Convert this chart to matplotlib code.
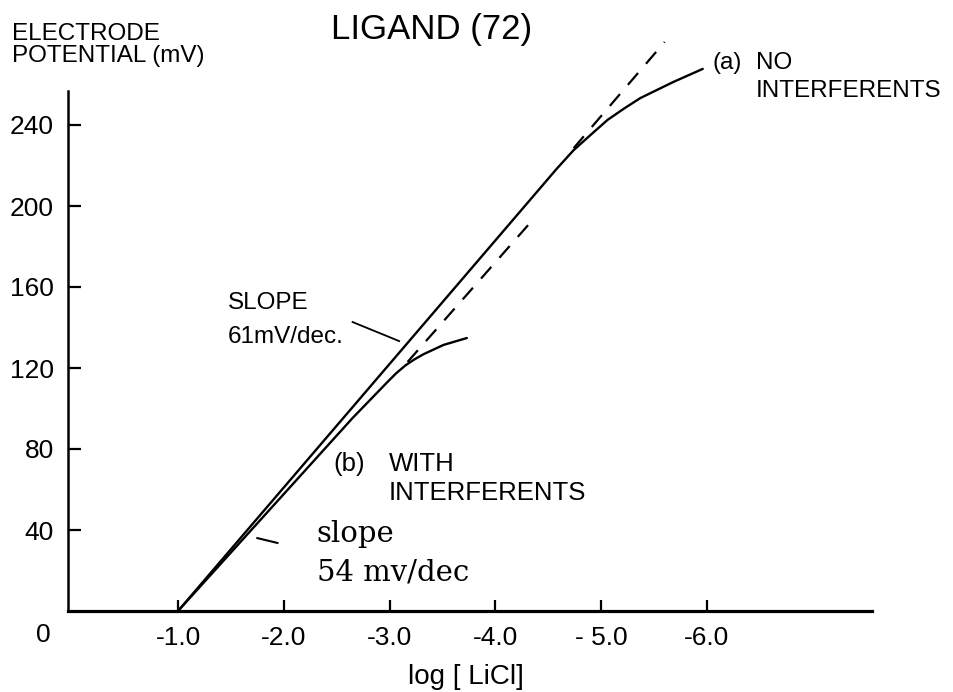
import matplotlib
matplotlib.use('Agg')
import matplotlib.pyplot as plt

plt.rcParams['font.family'] = ['Liberation Sans', 'DejaVu Sans']

# values (x = log[LiCl], y = potential in mV)
curve_a_x = [-1.0, -4.58, -4.66, -4.74, -4.90, -5.06, -5.21, -5.37, -5.68, -5.96]
curve_a_y = [0.0, 218.4, 223.0, 227.6, 235.1, 242.5, 247.9, 253.3, 261.2, 267.7]

curve_b_x = [-1.0, -2.65, -2.98, -3.06, -3.15, -3.23, -3.32, -3.51, -3.73]
curve_b_y = [0.0, 95.3, 113.1, 117.3, 121.3, 124.1, 126.8, 131.4, 134.8]

# dashed 61 mV/dec extrapolations
dash_a_x = [-4.74, -5.60]
dash_a_y = [228.6, 281.0]
dash_b_x = [-3.17, -4.31]
dash_b_y = [123.0, 190.6]

# leader lines of the slope notes
lead_61_x = [-2.65, -3.09]
lead_61_y = [142.7, 133.3]
lead_54_x = [-1.75, -1.94]
lead_54_y = [36.0, 33.6]

x_ticks = [-1.0, -2.0, -3.0, -4.0, -5.0, -6.0]
x_tick_labels = ['-1.0', '-2.0', '-3.0', '-4.0', '- 5.0', '-6.0']
y_ticks = [40, 80, 120, 160, 200, 240]

W, H = 954, 692
fig = plt.figure(figsize=(W / 100, H / 100), dpi=100)
ax = fig.add_axes([68 / W, (H - 611) / H, 804 / W, 290 * 2.025 / H])
ax.set_xlim(0.04, -7.56)
ax.set_ylim(0, 290)

line_kw = dict(color='black', lw=1.7, solid_capstyle='round', solid_joinstyle='round')
ax.plot(curve_a_x, curve_a_y, **line_kw)
ax.plot(curve_b_x, curve_b_y, **line_kw)
ax.plot(dash_a_x, dash_a_y, color='black', lw=1.6, linestyle=(0, (7, 5.5)))
ax.plot(dash_b_x, dash_b_y, color='black', lw=1.6, linestyle=(0, (7, 5.5)))
ax.plot(lead_61_x, lead_61_y, color='black', lw=1.3)
ax.plot(lead_54_x, lead_54_y, color='black', lw=1.5)

for s in ['top', 'right']:
    ax.spines[s].set_visible(False)
ax.spines['left'].set_linewidth(1.8)
ax.spines['bottom'].set_linewidth(2.3)
ax.spines['left'].set_bounds(0, 257)

ax.set_xticks(x_ticks)
ax.set_xticklabels(x_tick_labels)
ax.set_yticks(y_ticks)
ax.tick_params(axis='y', direction='in', length=9, width=1.6, pad=10, labelsize=19)
ax.tick_params(axis='x', direction='in', length=8, width=1.6, pad=11, labelsize=19)

ax.set_xlabel('log [ LiCl]', fontsize=20, va='center')
ax.xaxis.set_label_coords((466 - 68) / 804, -(677 - 611) / (290 * 2.025))

# annotations
txt = dict(fontsize=17.5, va='center', ha='left')
ax.text(-1.47, 152.1, 'SLOPE', **txt)
ax.text(-1.47, 135.3, '61mV/dec.', **txt)
ax.text(-6.05, 270.6, '(a)', **txt)
ax.text(-6.46, 270.6, 'NO', **txt)
ax.text(-6.46, 256.8, 'INTERFERENTS', **txt)
ax.text(-2.47, 72.6, '(b)', fontsize=18.5, va='center', ha='left')
ax.text(-2.99, 72.6, 'WITH', fontsize=18.5, va='center', ha='left')
ax.text(-2.99, 58.3, 'INTERFERENTS', fontsize=18.5, va='center', ha='left')
ax.text(-2.31, 34.1, 'slope', family='DejaVu Serif', fontsize=21, va='baseline')
ax.text(-2.31, 15.3, '54 mv/dec', family='DejaVu Serif', fontsize=21, va='baseline')

fig.text(432 / W, 1 - 30 / H, 'LIGAND (72)', fontsize=25, ha='center', va='center')
fig.text(12 / W, 1 - 45 / H, 'ELECTRODE\nPOTENTIAL (mV)', fontsize=17.5,
         ha='left', va='center', linespacing=1.0)
fig.text(43 / W, 1 - 635 / H, '0', fontsize=19, ha='center', va='center')

fig.savefig('out.png', dpi=100)
